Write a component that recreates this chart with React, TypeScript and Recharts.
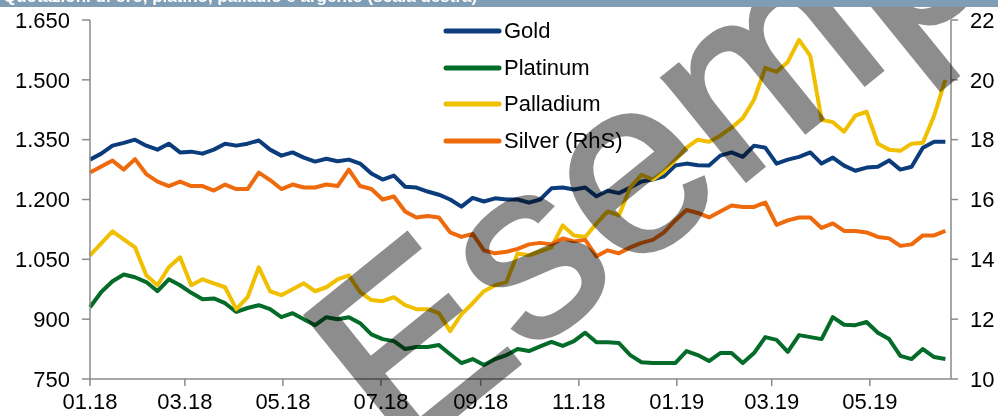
import React from 'react';
import { Line, LineChart, XAxis, YAxis } from 'recharts';

// weekly closes, week 0 = first week of Jan 2018
const gold = [
  1300, 1315, 1335, 1342, 1350, 1335, 1325, 1340, 1318, 1320, 1315, 1325, 1340, 1335, 1340, 1348,
  1325, 1310, 1318, 1305, 1295, 1302, 1296, 1300, 1290, 1265, 1250, 1260, 1232, 1230, 1220, 1212,
  1200, 1182, 1204, 1195, 1203, 1200, 1200, 1192, 1200, 1228, 1230, 1225, 1230, 1208, 1222, 1216,
  1230, 1245, 1250, 1258, 1285, 1290, 1286, 1285, 1310, 1318, 1307, 1335, 1330, 1290, 1300, 1307,
  1318, 1290, 1305, 1285, 1272, 1280, 1282, 1298, 1275, 1282, 1330, 1345, 1345,
];
const platinum = [
  930, 968, 995, 1012, 1005, 993, 970, 1000, 985, 966, 950, 952, 940, 918, 928, 935,
  925, 905, 915, 900, 885, 905, 900, 905, 890, 862, 850, 845, 825, 830, 830, 835,
  812, 790, 800, 785, 800, 810, 825, 820, 832, 843, 833, 845, 866, 842, 842, 840,
  810, 792, 790, 790, 790, 820, 810, 795, 815, 815, 790, 815, 855, 848, 818, 860,
  855, 850, 905, 886, 885, 893, 866, 850, 808, 800, 825, 805, 800,
];
const palladium = [
  1060, 1090, 1120, 1100, 1080, 1010, 985, 1030, 1055, 985, 1000, 990, 980, 925, 955, 1030,
  970, 960, 975, 990, 970, 980, 1000, 1010, 968, 948, 945, 955, 935, 925, 925, 915,
  870, 912, 940, 970, 985, 993, 1065, 1060, 1070, 1080, 1135, 1110, 1106, 1140, 1170, 1160,
  1230, 1262, 1250, 1270, 1299, 1330, 1350, 1345, 1360, 1380, 1404, 1450, 1530, 1520, 1545, 1600,
  1560, 1400, 1394, 1370, 1410, 1420, 1340, 1325, 1322, 1340, 1342, 1410, 1500,
];
const silver = [
  16.9, 17.1, 17.3, 17.0, 17.35, 16.85, 16.6, 16.45, 16.6, 16.45, 16.45, 16.3, 16.5, 16.35, 16.35, 16.9,
  16.65, 16.35, 16.5, 16.4, 16.4, 16.5, 16.45, 17.0, 16.45, 16.35, 16.0, 16.1, 15.6, 15.4, 15.45, 15.4,
  14.9, 14.75, 14.85, 14.3, 14.2, 14.25, 14.35, 14.5, 14.55, 14.5, 14.7, 14.6, 14.65, 14.1, 14.3, 14.2,
  14.4, 14.55, 14.65, 14.9, 15.3, 15.65, 15.55, 15.4, 15.6, 15.8, 15.75, 15.75, 15.9, 15.15, 15.3, 15.4,
  15.4, 15.05, 15.2, 14.95, 14.95, 14.9, 14.75, 14.7, 14.45, 14.5, 14.8, 14.8, 14.95,
];

const monthTicks = [0, 8.43, 17.14, 25.86, 34.71, 43.43, 52.14, 60.57, 69.29];
const monthLabels = ['01.18', '03.18', '05.18', '07.18', '09.18', '11.18', '01.19', '03.19', '05.19'];
const leftTicks = [750, 900, 1050, 1200, 1350, 1500, 1650];
const rightTicks = [10, 12, 14, 16, 18, 20, 22];

const series = [
  { key: 'gold', name: 'Gold', color: '#0b3c7c', axis: 'left' },
  { key: 'platinum', name: 'Platinum', color: '#046b28', axis: 'left' },
  { key: 'palladium', name: 'Palladium', color: '#f0bf00', axis: 'left' },
  { key: 'silver', name: 'Silver (RhS)', color: '#ee6a0c', axis: 'right' },
];

const data = gold.map((g, i) => ({
  w: i,
  gold: g,
  platinum: platinum[i],
  palladium: palladium[i],
  silver: silver[i],
}));

const font = '"Liberation Sans", Arial, sans-serif';
const axisColor = '#8a8a8a';
const tick = { fill: '#000', fontSize: 22, fontFamily: font };

const fmtThousands = (v: number) => v.toLocaleString('de-DE');

function MetalLegend() {
  return (
    <div style={{ position: 'absolute', left: 442, top: 13, fontFamily: font, fontSize: 22, color: '#000', lineHeight: 1 }}>
      {series.map((s) => (
        <div key={s.key} style={{ display: 'flex', alignItems: 'center', height: 36.5 }}>
          <svg width={62} height={10}>
            <line x1={4} y1={5} x2={57} y2={5} stroke={s.color} strokeWidth={5} strokeLinecap='round' />
          </svg>
          <span>{s.name}</span>
        </div>
      ))}
    </div>
  );
}

export default function App() {
  return (
    <div style={{ position: 'absolute', left: 0, top: 0, width: 998, height: 416, background: '#fff', overflow: 'hidden' }}>
      <div
        style={{
          position: 'absolute', left: 0, top: 0, width: 998, height: 7, background: '#7f9db4',
          overflow: 'hidden', zIndex: 2,
        }}
      >
        <span
          style={{
            position: 'absolute', left: 3, top: -13, color: '#fff', fontWeight: 'bold',
            fontSize: 17, fontFamily: font, whiteSpace: 'nowrap',
          }}
        >
          Quotazioni di oro, platino, palladio e argento (scala destra)
        </span>
      </div>
      <LineChart width={998} height={416} data={data} margin={{ top: 20, right: 0, bottom: 0, left: 0 }}>
        <XAxis
          dataKey='w'
          type='number'
          domain={[0, 76.5]}
          ticks={monthTicks}
          tickFormatter={(v: number) => monthLabels[monthTicks.indexOf(v)] ?? ''}
          interval={0}
          height={37}
          tick={tick}
          tickSize={7}
          tickMargin={7}
          stroke={axisColor}
          strokeWidth={1.5}
        />
        <YAxis
          yAxisId='left'
          domain={[750, 1650]}
          ticks={leftTicks}
          tickFormatter={fmtThousands}
          width={90}
          tick={tick}
          tickSize={8}
          tickMargin={12}
          stroke={axisColor}
          strokeWidth={1.5}
          interval={0}
        />
        <YAxis
          yAxisId='right'
          orientation='right'
          domain={[10, 22]}
          ticks={rightTicks}
          width={47}
          tick={tick}
          tickSize={7}
          tickMargin={12}
          stroke={axisColor}
          strokeWidth={1.5}
          interval={0}
        />
        {series.map((s) => (
          <Line
            key={s.key}
            yAxisId={s.axis}
            dataKey={s.key}
            name={s.name}
            stroke={s.color}
            strokeWidth={4}
            dot={false}
            type='linear'
            strokeLinejoin='round'
            isAnimationActive={false}
          />
        ))}
      </LineChart>
      <MetalLegend />
      <svg
        width={998}
        height={416}
        style={{ position: 'absolute', left: 0, top: 0, pointerEvents: 'none', mixBlendMode: 'multiply' }}
      >
        <text
          x={398}
          y={462}
          transform='rotate(-39 398 462)'
          fontSize={250}
          fontFamily={font}
          fill='#8d8d8d'
          stroke='#8d8d8d'
          strokeWidth={4}
        >
          Esempio
        </text>
      </svg>
    </div>
  );
}
